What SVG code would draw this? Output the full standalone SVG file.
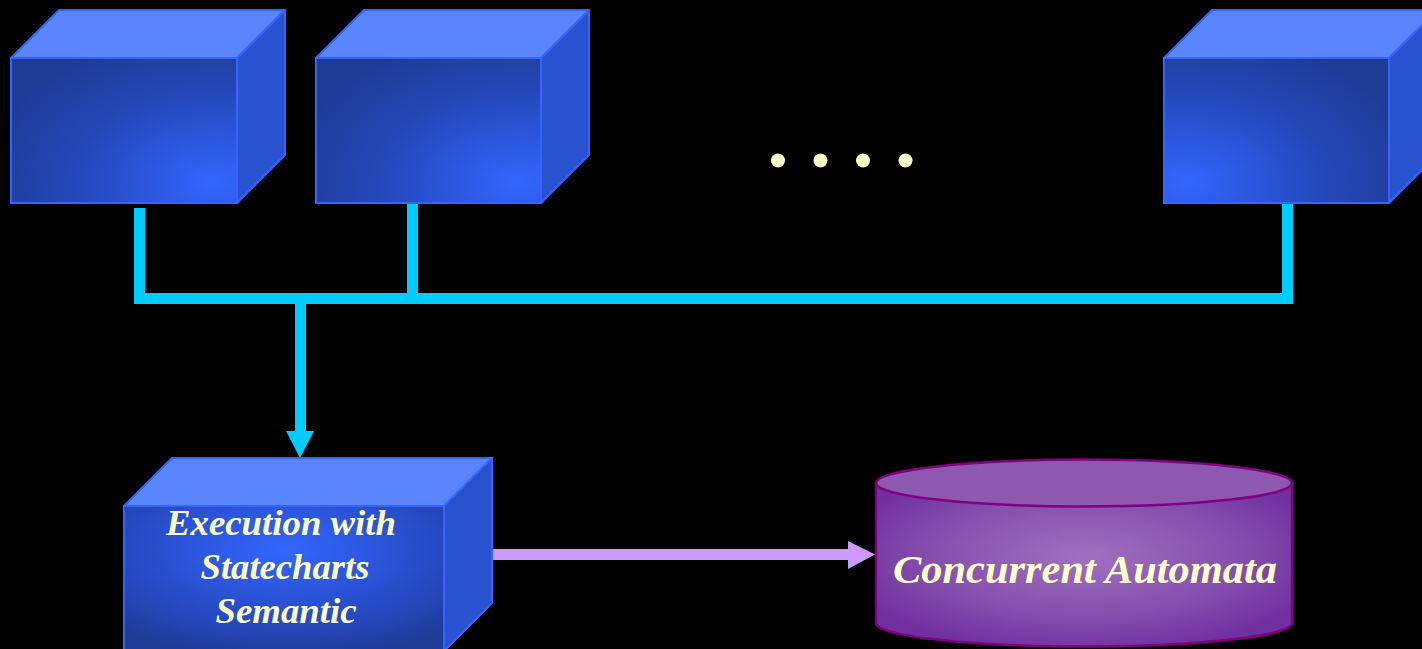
<svg xmlns="http://www.w3.org/2000/svg" width="1422" height="649" viewBox="0 0 1422 649">
<defs>
<style>
.top{fill:#5B85FF;stroke:#3366FF;stroke-width:2;stroke-linejoin:round}
.side{fill:#2852CF;stroke:#3366FF;stroke-width:2;stroke-linejoin:round}
.front{stroke:#3366FF;stroke-width:2}
.cyan{fill:#00CCFF}
.lbl{font-family:"Liberation Serif","Times New Roman",serif;font-weight:bold;font-style:italic;fill:#FFFFCC;text-anchor:middle}
.dot{fill:#FFFFCC}
</style>
<radialGradient id="gBR" cx="0.95" cy="0.9" r="1.1" fx="0.9" fy="0.85">
<stop offset="0" stop-color="#3366FF"/>
<stop offset="0.6" stop-color="#2447B8"/>
<stop offset="1" stop-color="#1F3C96"/>
</radialGradient>
<radialGradient id="gBL" cx="0.05" cy="0.9" r="1.1" fx="0.1" fy="0.85">
<stop offset="0" stop-color="#3366FF"/>
<stop offset="0.6" stop-color="#2447B8"/>
<stop offset="1" stop-color="#1F3C96"/>
</radialGradient>
<radialGradient id="gC" cx="0.5" cy="0.3" r="0.75">
<stop offset="0" stop-color="#3366FF"/>
<stop offset="0.7" stop-color="#2648BE"/>
<stop offset="1" stop-color="#1F3C96"/>
</radialGradient>
<radialGradient id="gP" cx="0.5" cy="0.45" r="0.6">
<stop offset="0" stop-color="#A070C0"/>
<stop offset="0.6" stop-color="#8650AE"/>
<stop offset="1" stop-color="#7030A0"/>
</radialGradient>
</defs>
<rect width="1422" height="649" fill="#000"/>

<g id="connectors">
<rect class="cyan" x="134" y="208" width="11" height="96"/>
<rect class="cyan" x="407" y="203" width="11" height="101"/>
<rect class="cyan" x="1282" y="203" width="11" height="101"/>
<rect class="cyan" x="134" y="293" width="1159" height="11"/>
<rect class="cyan" x="295" y="299" width="11" height="133"/>
<polygon class="cyan" points="286,431 314,431 300,458"/>
<rect x="493" y="549" width="356" height="11" fill="#CC99FF"/>
<polygon points="848,541 875,554.5 848,569" fill="#CC99FF"/>
</g>

<g id="cube1">
<polygon class="top" points="11,58 59,10 285,10 237,58"/>
<polygon class="side" points="237,58 285,10 285,155 237,203"/>
<rect class="front" x="11" y="58" width="226" height="145" fill="url(#gBR)"/>
</g>

<g id="cube2">
<polygon class="top" points="316,58 364,10 589,10 541,58"/>
<polygon class="side" points="541,58 589,10 589,155 541,203"/>
<rect class="front" x="316" y="58" width="225" height="145" fill="url(#gBR)"/>
</g>

<g id="dots">
<circle class="dot" cx="778" cy="160.5" r="7"/>
<circle class="dot" cx="820.5" cy="160.5" r="7"/>
<circle class="dot" cx="863" cy="160.5" r="7"/>
<circle class="dot" cx="905.5" cy="160.5" r="7"/>
</g>

<g id="cube3">
<polygon class="top" points="1164,58 1212,10 1437,10 1389,58"/>
<polygon class="side" points="1389,58 1437,10 1437,155 1389,203"/>
<rect class="front" x="1164" y="58" width="225" height="145" fill="url(#gBL)"/>
</g>

<g id="execution">
<polygon class="top" points="124,506 172,458 492,458 444,506"/>
<polygon class="side" points="444,506 492,458 492,603 444,651"/>
<rect class="front" x="124" y="506" width="320" height="146" fill="url(#gC)"/>
<text class="lbl" font-size="35" x="281" y="535" textLength="230" lengthAdjust="spacingAndGlyphs">Execution with</text>
<text class="lbl" font-size="35" x="285" y="579" textLength="169" lengthAdjust="spacingAndGlyphs">Statecharts</text>
<text class="lbl" font-size="35" x="286" y="623" textLength="141" lengthAdjust="spacingAndGlyphs">Semantic</text>
</g>

<g id="automata">
<path d="M876,483 L876,623 A208,23.5 0 0 0 1292,623 L1292,483 Z" fill="url(#gP)" stroke="#800080" stroke-width="2.5"/>
<ellipse cx="1084" cy="483" rx="208" ry="23.5" fill="#8E58B0" stroke="#800080" stroke-width="2.5"/>
<text class="lbl" font-size="41" x="1085" y="583" textLength="384" lengthAdjust="spacingAndGlyphs">Concurrent Automata</text>
</g>
</svg>
